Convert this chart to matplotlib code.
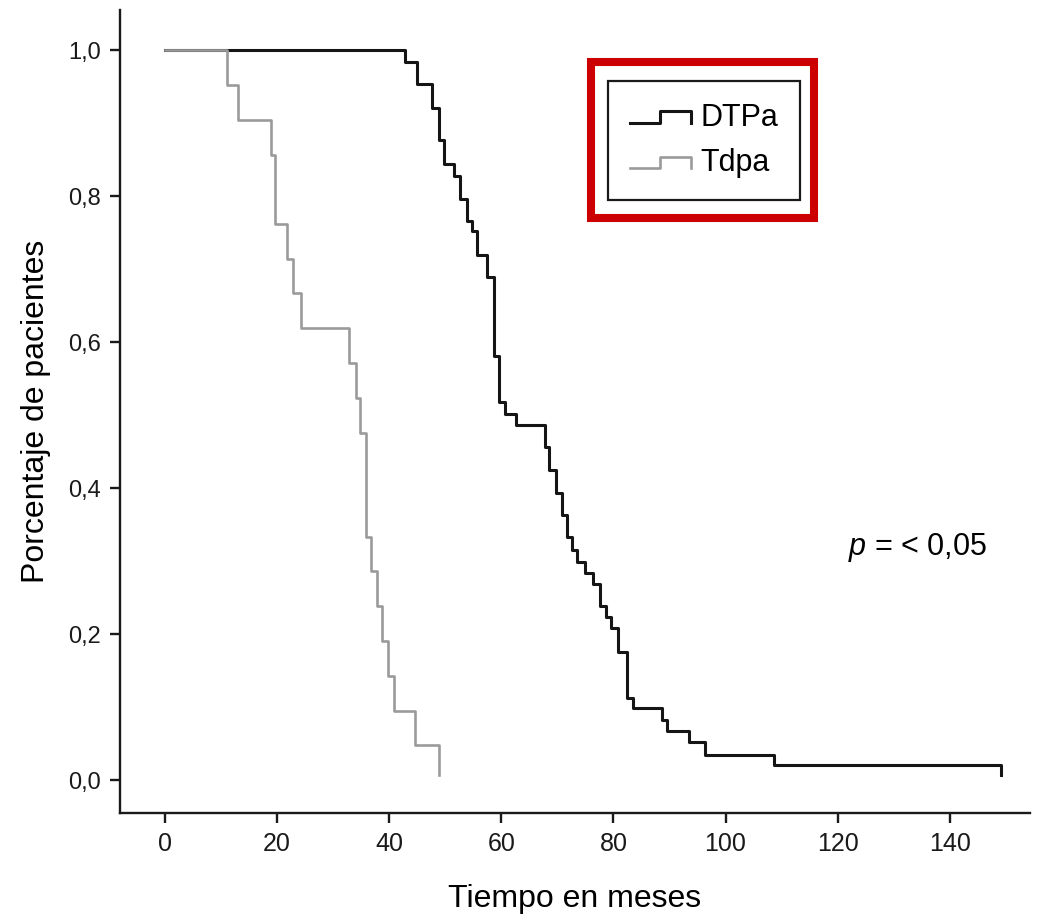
# -*- coding:utf8 -*-
import matplotlib
matplotlib.use('Agg')
import matplotlib.pyplot as plt
from matplotlib.lines import Line2D
from matplotlib.patches import Rectangle
from matplotlib.legend_handler import HandlerBase

# curva DTPa (meses, proporcion tras cada caida)
dtpaTimes = [0, 42.8, 44.9, 47.7, 48.9, 49.8, 51.5, 52.6, 53.8, 54.8, 55.6, 57.5,
             58.7, 59.6, 60.7, 62.6, 67.8, 68.5, 69.7, 70.9, 71.7, 72.6, 73.5,
             75.0, 76.4, 77.6, 78.6, 79.6, 80.8, 82.5, 83.5, 88.6, 89.6, 93.5,
             96.4, 108.6, 149.1]
dtpaValues = [1.0, 0.984, 0.954, 0.921, 0.877, 0.844, 0.828, 0.796, 0.766, 0.752,
              0.720, 0.690, 0.581, 0.518, 0.502, 0.487, 0.457, 0.425, 0.393, 0.363,
              0.333, 0.315, 0.299, 0.284, 0.269, 0.238, 0.223, 0.208, 0.176, 0.113,
              0.099, 0.083, 0.068, 0.052, 0.035, 0.021, 0.007]

# curva Tdpa
tdpaTimes = [0, 11.0, 13.0, 19.0, 19.7, 21.7, 22.9, 24.2, 32.8, 34.1, 34.8, 35.8,
             36.8, 37.9, 38.8, 39.8, 40.8, 44.7, 48.9]
tdpaValues = [1.0, 0.952, 0.905, 0.857, 0.762, 0.714, 0.667, 0.619, 0.571, 0.524,
              0.476, 0.333, 0.286, 0.238, 0.190, 0.143, 0.095, 0.048, 0.007]

xTicks = [0, 20, 40, 60, 80, 100, 120, 140]
yTicks = [0.0, 0.2, 0.4, 0.6, 0.8, 1.0]
yTickLabels = ['0,0', '0,2', '0,4', '0,6', '0,8', '1,0']

plt.rcParams['font.family'] = ['Liberation Sans', 'DejaVu Sans']
plt.rcParams['mathtext.fontset'] = 'custom'
plt.rcParams['mathtext.it'] = 'Liberation Sans:italic'
plt.rcParams['mathtext.rm'] = 'Liberation Sans'

narrow = ['Liberation Sans Narrow', 'Liberation Sans', 'DejaVu Sans']


class StepHandler(HandlerBase):
    # dibuja el simbolo escalonado de la leyenda
    def create_artists(self, legend, orig_handle, xdescent, ydescent,
                       width, height, fontsize, trans):
        x0 = -xdescent
        low = -ydescent + 0.15 * height
        high = -ydescent + 0.68 * height
        xs = [x0, x0 + 0.5 * width, x0 + 0.5 * width, x0 + width, x0 + width]
        ys = [low, low, high, high, low]
        line = Line2D(xs, ys, color=orig_handle.get_color(),
                      linewidth=orig_handle.get_linewidth(), transform=trans)
        return [line]


fig = plt.figure(figsize=(10.51, 9.23), dpi=100)
ax = fig.add_axes([0.1142, 0.1192, 0.8658, 0.8698])

lineD, = ax.step(dtpaTimes, dtpaValues, where='post', color='#151515', linewidth=2.2,
                 label='DTPa', zorder=2)
lineT, = ax.step(tdpaTimes, tdpaValues, where='post', color='#9a9a9a', linewidth=1.9,
                 label='Tdpa', zorder=3)

ax.set_xlim(-8.0, 154.3)
ax.set_ylim(-0.045, 1.055)
ax.set_xticks(xTicks)
ax.set_xticklabels([str(t) for t in xTicks], fontsize=18)
ax.set_yticks(yTicks)
ax.set_yticklabels(yTickLabels, fontsize=17)

for side in ['top', 'right']:
    ax.spines[side].set_visible(False)
for side in ['left', 'bottom']:
    ax.spines[side].set_linewidth(1.7)
    ax.spines[side].set_color('#1a1a1a')
ax.tick_params(direction='out', length=7, width=1.7, colors='#1a1a1a', pad=7)

ax.set_xlabel('Tiempo en meses', fontsize=23, family=narrow, labelpad=20)
ax.set_ylabel('Porcentaje de pacientes', fontsize=23, family=narrow, labelpad=12)

ax.text(121.8, 0.319, '$p$ = < 0,05', fontsize=22, ha='left', va='center')

leg = ax.legend(handles=[lineD, lineT], loc='upper left', bbox_to_anchor=(0.536, 0.912),
                borderaxespad=0, fontsize=22, frameon=True, fancybox=False, framealpha=1,
                handlelength=2.0, handletextpad=0.3, labelspacing=0.5, borderpad=0.72,
                handler_map={Line2D: StepHandler()})
leg.get_frame().set_edgecolor('#1a1a1a')
leg.get_frame().set_linewidth(1.6)

# recuadro rojo de resaltado
fig.patches.append(Rectangle((591 / 1051, 1 - 218 / 923), 223 / 1051, 156 / 923,
                             transform=fig.transFigure, fill=False,
                             edgecolor='#cc0000', linewidth=5.8))

fig.savefig('out.png', dpi=100)
